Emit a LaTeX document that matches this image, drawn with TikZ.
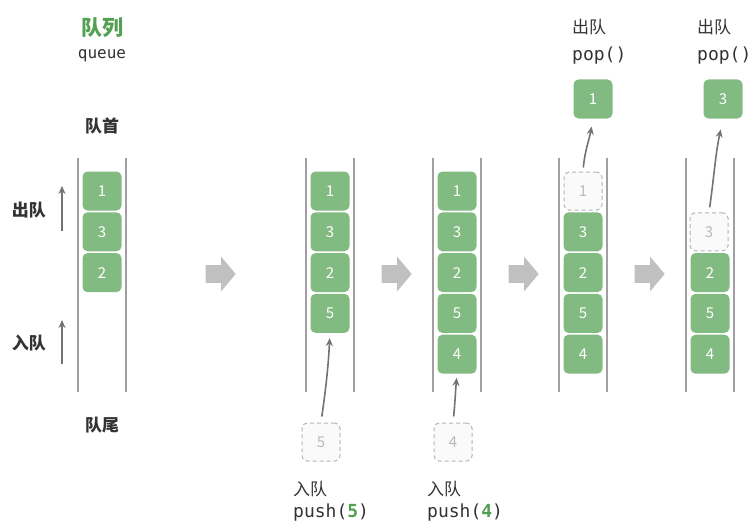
\documentclass[tikz,border=0pt]{standalone}
\usepackage{fontspec}
\setmainfont{Noto Sans CJK SC}
\setmonofont{DejaVu Sans Mono}
\usetikzlibrary{arrows.meta,shapes.arrows}

\definecolor{boxgreen}{RGB}{130,187,130}
\definecolor{titlegreen}{RGB}{82,160,82}
\definecolor{inkdark}{RGB}{51,51,51}
\definecolor{wallgray}{RGB}{160,160,160}
\definecolor{flowgray}{RGB}{115,115,115}
\definecolor{ghostline}{RGB}{180,180,180}
\definecolor{ghostfill}{RGB}{250,250,250}
\definecolor{ghosttext}{RGB}{185,185,185}
\definecolor{shiftgray}{RGB}{192,192,192}

\begin{document}
\begin{tikzpicture}[x=1pt, y=-1pt, >={Stealth[length=8pt,width=7pt]},
  qbox/.style={rounded corners=5pt, fill=boxgreen, minimum size=39pt, inner sep=0pt,
    text=white, font=\fontsize{15}{15}\selectfont},
  ghost/.style={qbox, draw=ghostline, fill=ghostfill, dash pattern=on 4pt off 3pt,
    line width=1pt, text=ghosttext, minimum size=38pt},
  wall/.style={draw=wallgray, line width=1.4pt},
  flow/.style={->, draw=flowgray, line width=1.6pt},
  nextarrow/.style={single arrow, fill=shiftgray, minimum height=30pt, minimum width=35pt,
    inner sep=7pt, single arrow tip angle=100},
  side/.style={text=inkdark, font=\fontsize{17}{17}\selectfont\bfseries},
  cjk/.style={text=inkdark, font=\fontsize{17}{17}\selectfont, anchor=west, inner sep=0pt},
  code/.style={text=inkdark, font=\ttfamily\fontsize{18}{18}\selectfont, anchor=west, inner sep=0pt}]
  \useasboundingbox (0,0) rectangle (753,527);

  % Titulo
  \node[text=titlegreen, font=\fontsize{21}{21}\selectfont\bfseries] (title) at (102,28) {队列};
  \node[text=inkdark, font=\ttfamily\fontsize{16}{16}\selectfont] (titlesub) at (102,56) {queue};

  % Columna inicial
  \node[side] (head) at (102,126) {队首};
  \node[side] (tail) at (102,425) {队尾};
  \node[side] (outlbl) at (29,210) {出队};
  \node[side] (inlbl) at (29,343) {入队};
  \coordinate (outA) at (62,231);
  \coordinate (outB) at (62,186);
  \coordinate (inA) at (62,364);
  \coordinate (inB) at (62,320);
  \draw[flow] (outA) -- (outB);
  \draw[flow] (inA) -- (inB);
  \draw[wall] (78,158) -- (78,392) (126,158) -- (126,392);
  \node[qbox] (a0) at (102,191) {1};
  \node[qbox] (a1) at (102,231.8) {3};
  \node[qbox] (a2) at (102,272.6) {2};

  % push(5)
  \draw[wall] (306,158) -- (306,392) (354,158) -- (354,392);
  \node[qbox] (b0) at (330,191) {1};
  \node[qbox] (b1) at (330,231.8) {3};
  \node[qbox] (b2) at (330,272.6) {2};
  \node[qbox] (b3) at (330,313.4) {5};
  \node[ghost] (g5) at (321,442) {5};
  \draw[flow, shorten <=6pt, shorten >=5pt] (g5.north) to[out=82, in=-93] (b3.south);
  \node[cjk] (push5a) at (293,489) {入队};
  \node[code] (push5b) at (293,513) {push(\textcolor{titlegreen}{\bfseries 5})};

  % push(4)
  \draw[wall] (433,158) -- (433,392) (481,158) -- (481,392);
  \node[qbox] (c0) at (457,191) {1};
  \node[qbox] (c1) at (457,231.8) {3};
  \node[qbox] (c2) at (457,272.6) {2};
  \node[qbox] (c3) at (457,313.4) {5};
  \node[qbox] (c4) at (457,354.2) {4};
  \node[ghost] (g4) at (453,442) {4};
  \draw[flow, shorten <=6pt, shorten >=4pt] (g4.north) to[out=84, in=-95] (c4.south);
  \node[cjk] (push4a) at (427,489) {入队};
  \node[code] (push4b) at (427,513) {push(\textcolor{titlegreen}{\bfseries 4})};

  % pop() 1
  \draw[wall] (559,158) -- (559,392) (607,158) -- (607,392);
  \node[ghost] (d0) at (583,191) {1};
  \node[qbox] (d1) at (583,231.8) {3};
  \node[qbox] (d2) at (583,272.6) {2};
  \node[qbox] (d3) at (583,313.4) {5};
  \node[qbox] (d4) at (583,354.2) {4};
  \node[qbox] (p1) at (593,99) {1};
  \draw[flow, shorten <=4pt, shorten >=8pt] (d0.north) to[out=85, in=-100] (p1.south);
  \node[cjk] (pop1a) at (572,27) {出队};
  \node[code] (pop1b) at (572,56) {pop()};

  % pop() 3
  \draw[wall] (686,158) -- (686,392) (734,158) -- (734,392);
  \node[ghost] (e1) at (709,231.8) {3};
  \node[qbox] (e2) at (710,272.6) {2};
  \node[qbox] (e3) at (710,313.4) {5};
  \node[qbox] (e4) at (710,354.2) {4};
  \node[qbox] (p3) at (723,99) {3};
  \draw[flow, shorten <=5pt, shorten >=11pt] (e1.north) to[out=82, in=-102] (p3.south);
  \node[cjk] (pop3a) at (697,27) {出队};
  \node[code] (pop3b) at (697,56) {pop()};

  % Pasos
  \node[nextarrow] (s1) at (217,274) {};
  \node[nextarrow] (s2) at (393,274) {};
  \node[nextarrow] (s3) at (520,274) {};
  \node[nextarrow] (s4) at (646,274) {};
\end{tikzpicture}
\end{document}
